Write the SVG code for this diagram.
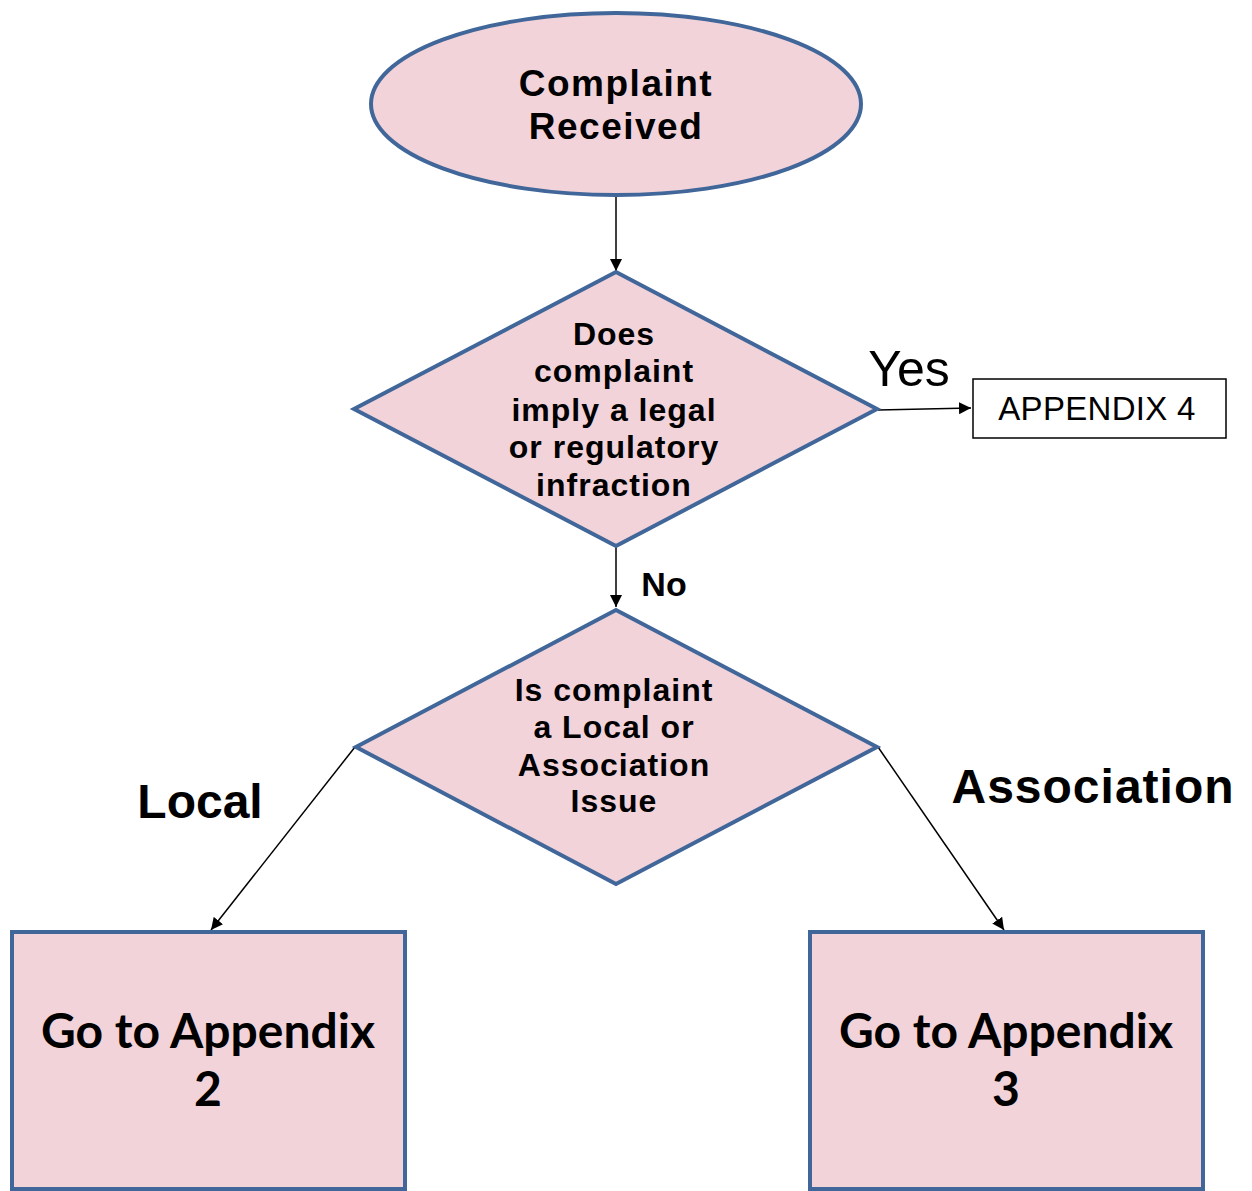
<svg xmlns="http://www.w3.org/2000/svg" width="1252" height="1191" viewBox="0 0 1252 1191">
<defs>
<style>
.shape{fill:#f2d3d9;stroke:#41679a;stroke-width:4}
.conn{stroke:#000;stroke-width:1.5;fill:none}
.t{font-family:"Liberation Sans",Arial,sans-serif;fill:#000;text-anchor:middle}
.dt{font-size:32px;font-weight:bold;letter-spacing:1px}
.bt{font-family:Lato,"Liberation Sans",sans-serif;font-weight:bold;font-size:48px;fill:#000;text-anchor:middle}
</style>
<marker id="ah" viewBox="0 0 10 10" refX="10" refY="5" markerWidth="12" markerHeight="12" markerUnits="userSpaceOnUse" orient="auto">
<path d="M0,0 L10,5 L0,10 z" fill="#000"/>
</marker>
</defs>
<rect width="1252" height="1191" fill="#fff"/>
<g id="connectors">
<line class="conn" x1="616" y1="197" x2="616" y2="271" marker-end="url(#ah)"/>
<line class="conn" x1="878" y1="410" x2="971" y2="408" marker-end="url(#ah)"/>
<line class="conn" x1="616" y1="547" x2="616" y2="607" marker-end="url(#ah)"/>
<line class="conn" x1="355" y1="747" x2="211" y2="930" marker-end="url(#ah)"/>
<line class="conn" x1="878" y1="747" x2="1004" y2="930" marker-end="url(#ah)"/>
<text class="t" x="909" y="386" font-size="50">Yes</text>
<text class="t" x="664" y="596" font-size="34" font-weight="bold">No</text>
<text class="t" x="200" y="818" font-size="48" font-weight="bold">Local</text>
<text class="t" x="1093" y="803" font-size="48" font-weight="bold" letter-spacing="1">Association</text>
</g>
<g id="start">
<ellipse class="shape" cx="616" cy="104" rx="245" ry="91"/>
<text class="t" x="616" y="96" font-size="37" font-weight="bold" letter-spacing="1.5">Complaint</text>
<text class="t" x="616" y="139" font-size="37" font-weight="bold" letter-spacing="1.5">Received</text>
</g>
<g id="decision1">
<polygon class="shape" points="616,272 877,409 616,546 354,409"/>
<text class="t dt" x="614" y="345">Does</text>
<text class="t dt" x="614" y="382">complaint</text>
<text class="t dt" x="614" y="421">imply a legal</text>
<text class="t dt" x="614" y="458">or regulatory</text>
<text class="t dt" x="614" y="496">infraction</text>
</g>
<g id="appendix4">
<rect x="973" y="379" width="253" height="59" fill="#fff" stroke="#000" stroke-width="1.5"/>
<text class="t" x="1097" y="420" font-size="33" letter-spacing="0.3">APPENDIX 4</text>
</g>
<g id="decision2">
<polygon class="shape" points="616,610 877,747 616,884 356,747"/>
<text class="t dt" x="614" y="701">Is complaint</text>
<text class="t dt" x="614" y="738">a Local or</text>
<text class="t dt" x="614" y="776">Association</text>
<text class="t dt" x="614" y="812">Issue</text>
</g>
<g id="appendix2">
<rect class="shape" x="12" y="932" width="393" height="257"/>
<text class="bt" x="208" y="1048">Go to Appendix</text>
<text class="bt" x="208" y="1106">2</text>
</g>
<g id="appendix3">
<rect class="shape" x="810" y="932" width="393" height="257"/>
<text class="bt" x="1006" y="1048">Go to Appendix</text>
<text class="bt" x="1006" y="1106">3</text>
</g>
</svg>
